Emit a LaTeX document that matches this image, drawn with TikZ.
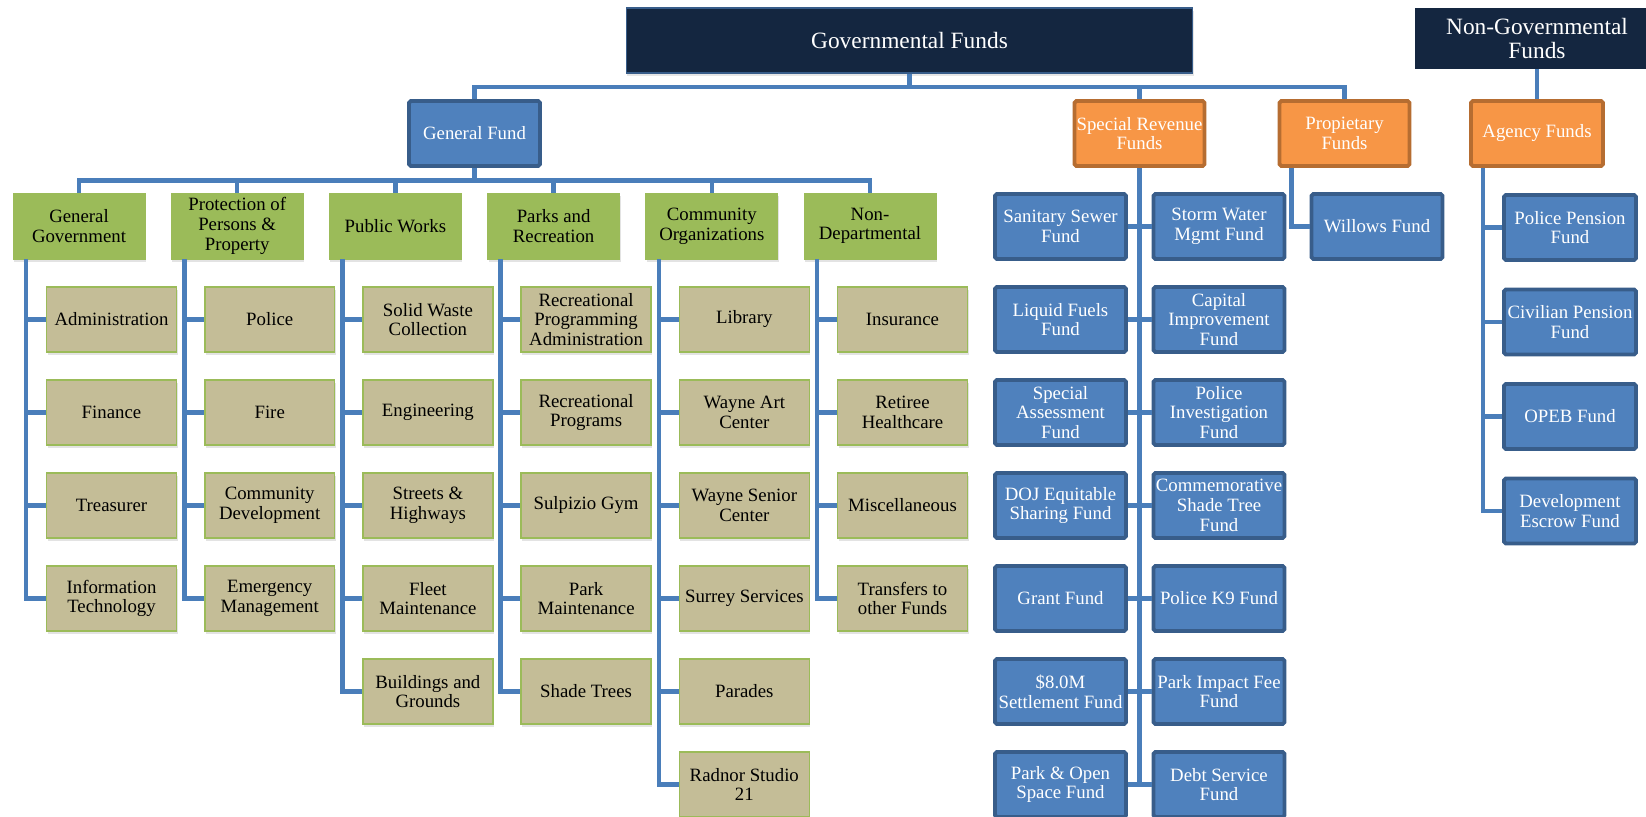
\documentclass[tikz,border=0pt]{standalone}
\usepackage{fontspec}
\setmainfont{Liberation Serif}
\usetikzlibrary{shadows}

\definecolor{navyfund}{RGB}{20,38,64}
\definecolor{bluefill}{RGB}{79,129,189}
\definecolor{blueedge}{RGB}{56,93,138}
\definecolor{orangefill}{RGB}{247,150,70}
\definecolor{orangeedge}{RGB}{182,109,49}
\definecolor{greenfill}{RGB}{155,187,89}
\definecolor{tanfill}{RGB}{196,189,151}
\definecolor{connblue}{RGB}{74,126,186}

\tikzset{
  boxtext/.style={align=center,inner sep=1pt,font=\fontsize{10.7}{11.2}\selectfont},
  topbox/.style={fill=navyfund,text=white,align=center,inner sep=1pt,
    font=\fontsize{13.3}{14.2}\selectfont,minimum height=1.3cm},
  catbox/.style={boxtext,fill=orangefill,draw=orangeedge,line width=2.2pt,text=white,
    rounded corners=1pt,minimum width=2.6cm,minimum height=1.3cm},
  fundbox/.style={boxtext,fill=bluefill,draw=blueedge,line width=2.2pt,text=white,
    rounded corners=1pt,minimum width=2.62cm,minimum height=1.3cm},
  deptbox/.style={boxtext,fill=greenfill,draw=greenfill,line width=0.5pt,
    minimum width=2.64cm,minimum height=1.32cm,
    drop shadow={shadow xshift=0.6pt,shadow yshift=-1.8pt,opacity=0.22}},
  itembox/.style={boxtext,fill=tanfill,draw=greenfill,line width=0.9pt,
    minimum width=2.6cm,minimum height=1.3cm,
    drop shadow={shadow xshift=0.6pt,shadow yshift=-1.8pt,opacity=0.22}},
  conn/.style={draw=connblue,line width=2.55pt}
}

\begin{document}
\begin{tikzpicture}[x=0.02cm,y=-0.02cm]
  \useasboundingbox (0,0) rectangle (1646,817);

  % top level
  \node[topbox,minimum width=11.34cm,draw=blueedge,line width=0.6pt,
    drop shadow={shadow xshift=0.6pt,shadow yshift=-1.5pt,opacity=0.2}] (gov) at (909.5,40.5) {Governmental Funds};
  \node[topbox,minimum width=4.88cm,minimum height=1.22cm] (nongov) at (1537,38.5) {Non-Governmental\\Funds};

  % fund types
  \node[fundbox] (genfund) at (474.5,133.5) {General Fund};
  \node[catbox] (specrev) at (1139.5,133.5) {Special Revenue\\Funds};
  \node[catbox] (propfund) at (1344.5,133.5) {Propietary\\Funds};
  \node[catbox,minimum width=2.64cm] (agency) at (1537,133.5) {Agency Funds};

  % general fund departments
  \node[deptbox] (gengov) at (79,226) {General\\Government};
  \node[deptbox] (protect) at (237.2,226) {Protection of\\Persons \&\\Property};
  \node[deptbox] (pubworks) at (395.4,226) {Public Works};
  \node[deptbox] (parks) at (553.6,226) {Parks and\\Recreation};
  \node[deptbox] (commorg) at (711.8,226) {Community\\Organizations};
  \node[deptbox] (nondept) at (870,226) {Non-\\Departmental};

  % general government
  \node[itembox] (admin) at (111.5,319.5) {Administration};
  \node[itembox] (finance) at (111.5,412.5) {Finance};
  \node[itembox] (treasurer) at (111.5,505.5) {Treasurer};
  \node[itembox] (infotech) at (111.5,598.5) {Information\\Technology};

  % protection of persons & property
  \node[itembox] (police) at (269.7,319.5) {Police};
  \node[itembox] (fire) at (269.7,412.5) {Fire};
  \node[itembox] (commdev) at (269.7,505.5) {Community\\Development};
  \node[itembox] (emergency) at (269.7,598.5) {Emergency\\Management};

  % public works
  \node[itembox] (solidwaste) at (427.9,319.5) {Solid Waste\\Collection};
  \node[itembox] (engineering) at (427.9,412.5) {Engineering};
  \node[itembox] (streets) at (427.9,505.5) {Streets \&\\Highways};
  \node[itembox] (fleet) at (427.9,598.5) {Fleet\\Maintenance};
  \node[itembox] (buildings) at (427.9,691.5) {Buildings and\\Grounds};

  % parks and recreation
  \node[itembox] (recadmin) at (586.1,319.5) {Recreational\\Programming\\Administration};
  \node[itembox] (recprog) at (586.1,412.5) {Recreational\\Programs};
  \node[itembox] (gym) at (586.1,505.5) {Sulpizio Gym};
  \node[itembox] (parkmaint) at (586.1,598.5) {Park\\Maintenance};
  \node[itembox] (shadetrees) at (586.1,691.5) {Shade Trees};

  % community organizations
  \node[itembox] (library) at (744.3,319.5) {Library};
  \node[itembox] (artcenter) at (744.3,412.5) {Wayne Art\\Center};
  \node[itembox] (senior) at (744.3,505.5) {Wayne Senior\\Center};
  \node[itembox] (surrey) at (744.3,598.5) {Surrey Services};
  \node[itembox] (parades) at (744.3,691.5) {Parades};
  \node[itembox] (studio) at (744.3,784.5) {Radnor Studio\\21};

  % non-departmental
  \node[itembox] (insurance) at (902.5,319.5) {Insurance};
  \node[itembox] (retiree) at (902.5,412.5) {Retiree\\Healthcare};
  \node[itembox] (misc) at (902.5,505.5) {Miscellaneous};
  \node[itembox] (transfers) at (902.5,598.5) {Transfers to\\other Funds};

  % special revenue funds
  \node[fundbox] (sanitary) at (1060.5,226.5) {Sanitary Sewer\\Fund};
  \node[fundbox] (stormwater) at (1219,226.5) {Storm Water\\Mgmt Fund};
  \node[fundbox] (liquidfuels) at (1060.5,319.5) {Liquid Fuels\\Fund};
  \node[fundbox] (capital) at (1219,319.5) {Capital\\Improvement\\Fund};
  \node[fundbox] (specassess) at (1060.5,412.5) {Special\\Assessment\\Fund};
  \node[fundbox] (policeinv) at (1219,412.5) {Police\\Investigation\\Fund};
  \node[fundbox] (doj) at (1060.5,505.5) {DOJ Equitable\\Sharing Fund};
  \node[fundbox] (shadetree) at (1219,505.5) {Commemorative\\Shade Tree\\Fund};
  \node[fundbox] (grant) at (1060.5,598.5) {Grant Fund};
  \node[fundbox] (kninefund) at (1219,598.5) {Police K9 Fund};
  \node[fundbox] (settlement) at (1060.5,691.5) {\$8.0M\\Settlement Fund};
  \node[fundbox] (impactfee) at (1219,691.5) {Park Impact Fee\\Fund};
  \node[fundbox] (openspace) at (1060.5,784.5) {Park \& Open\\Space Fund};
  \node[fundbox] (debtservice) at (1219,784.5) {Debt Service\\Fund};

  % propietary and agency funds
  \node[fundbox] (willows) at (1377,226.5) {Willows Fund};
  \node[fundbox,minimum width=2.64cm] (policepension) at (1570,227.5) {Police Pension\\Fund};
  \node[fundbox,minimum width=2.64cm] (civilian) at (1570,322) {Civilian Pension\\Fund};
  \node[fundbox,minimum width=2.64cm] (opeb) at (1570,416.5) {OPEB Fund};
  \node[fundbox,minimum width=2.64cm] (escrow) at (1570,511) {Development\\Escrow Fund};

  % connectors, top
  \coordinate (topbus) at (909.5,87);
  \draw[conn] (gov.south) -- (topbus);
  \draw[conn] (genfund.north) |- (topbus) -| (propfund.north);
  \draw[conn] (specrev.north) -- (specrev.north |- topbus);
  \draw[conn] (nongov.south) -- (agency.north);

  % connectors, general fund
  \coordinate (gfbus) at (474.5,180.5);
  \draw[conn] (genfund.south) -- (gfbus);
  \draw[conn] (gengov.north) |- (gfbus) -| (nondept.north);
  \draw[conn] (protect.north) -- (protect.north |- gfbus);
  \draw[conn] (pubworks.north) -- (pubworks.north |- gfbus);
  \draw[conn] (parks.north) -- (parks.north |- gfbus);
  \draw[conn] (commorg.north) -- (commorg.north |- gfbus);

  \coordinate (gengov-t) at ([xshift=0.27cm]gengov.south west);
  \draw[conn] (gengov-t) |- (infotech.west);
  \draw[conn] (gengov-t |- admin.west) -- (admin.west);
  \draw[conn] (gengov-t |- finance.west) -- (finance.west);
  \draw[conn] (gengov-t |- treasurer.west) -- (treasurer.west);

  \coordinate (protect-t) at ([xshift=0.27cm]protect.south west);
  \draw[conn] (protect-t) |- (emergency.west);
  \draw[conn] (protect-t |- police.west) -- (police.west);
  \draw[conn] (protect-t |- fire.west) -- (fire.west);
  \draw[conn] (protect-t |- commdev.west) -- (commdev.west);

  \coordinate (pubworks-t) at ([xshift=0.27cm]pubworks.south west);
  \draw[conn] (pubworks-t) |- (buildings.west);
  \draw[conn] (pubworks-t |- solidwaste.west) -- (solidwaste.west);
  \draw[conn] (pubworks-t |- engineering.west) -- (engineering.west);
  \draw[conn] (pubworks-t |- streets.west) -- (streets.west);
  \draw[conn] (pubworks-t |- fleet.west) -- (fleet.west);

  \coordinate (parks-t) at ([xshift=0.27cm]parks.south west);
  \draw[conn] (parks-t) |- (shadetrees.west);
  \draw[conn] (parks-t |- recadmin.west) -- (recadmin.west);
  \draw[conn] (parks-t |- recprog.west) -- (recprog.west);
  \draw[conn] (parks-t |- gym.west) -- (gym.west);
  \draw[conn] (parks-t |- parkmaint.west) -- (parkmaint.west);

  \coordinate (commorg-t) at ([xshift=0.27cm]commorg.south west);
  \draw[conn] (commorg-t) |- (studio.west);
  \draw[conn] (commorg-t |- library.west) -- (library.west);
  \draw[conn] (commorg-t |- artcenter.west) -- (artcenter.west);
  \draw[conn] (commorg-t |- senior.west) -- (senior.west);
  \draw[conn] (commorg-t |- surrey.west) -- (surrey.west);
  \draw[conn] (commorg-t |- parades.west) -- (parades.west);

  \coordinate (nondept-t) at ([xshift=0.27cm]nondept.south west);
  \draw[conn] (nondept-t) |- (transfers.west);
  \draw[conn] (nondept-t |- insurance.west) -- (insurance.west);
  \draw[conn] (nondept-t |- retiree.west) -- (retiree.west);
  \draw[conn] (nondept-t |- misc.west) -- (misc.west);

  % connectors, special revenue
  \draw[conn] (specrev.south) -- (specrev.south |- openspace.east);
  \draw[conn] (sanitary.east) -- (stormwater.west);
  \draw[conn] (liquidfuels.east) -- (capital.west);
  \draw[conn] (specassess.east) -- (policeinv.west);
  \draw[conn] (doj.east) -- (shadetree.west);
  \draw[conn] (grant.east) -- (kninefund.west);
  \draw[conn] (settlement.east) -- (impactfee.west);
  \draw[conn] (openspace.east) -- (debtservice.west);

  % connectors, propietary and agency
  \coordinate (propfund-t) at ([xshift=0.28cm]propfund.south west);
  \draw[conn] (propfund-t) |- (willows.west);

  \coordinate (agency-t) at ([xshift=0.28cm]agency.south west);
  \draw[conn] (agency-t) |- (escrow.west);
  \draw[conn] (agency-t |- policepension.west) -- (policepension.west);
  \draw[conn] (agency-t |- civilian.west) -- (civilian.west);
  \draw[conn] (agency-t |- opeb.west) -- (opeb.west);
\end{tikzpicture}
\end{document}
